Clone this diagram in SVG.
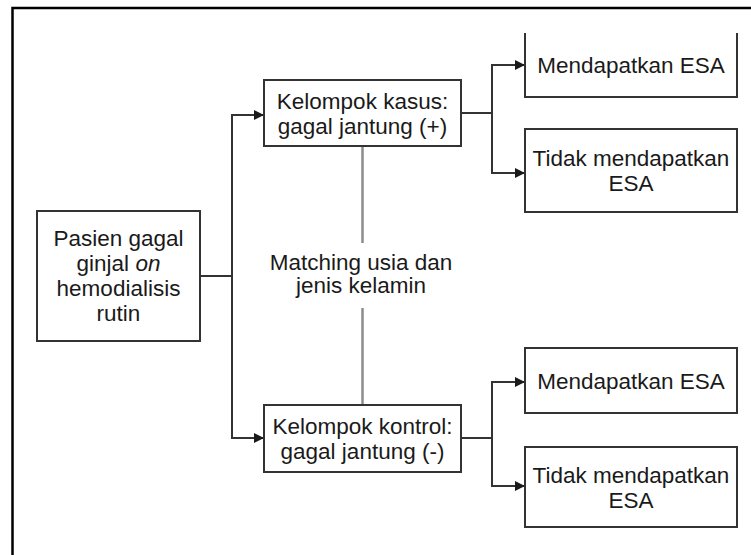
<svg xmlns="http://www.w3.org/2000/svg" width="751" height="555" viewBox="0 0 751 555">
<style>
  .box { fill: #ffffff; stroke: #333333; stroke-width: 2; }
  .lbl { font-family: "Liberation Sans", Arial, Helvetica, sans-serif; font-size: 22.5px; fill: #1a1a1a; text-anchor: middle; }
  .conn { fill: none; stroke: #333333; stroke-width: 2; }
  .match { fill: none; stroke: #8c8c8c; stroke-width: 2.5; }
  .frame { fill: none; stroke: #000000; stroke-width: 2.5; }
</style>
<defs>
  <marker id="arrow" markerWidth="10" markerHeight="10" refX="9" refY="5" orient="auto" markerUnits="userSpaceOnUse">
    <path d="M0,0 L10,5 L0,10 Z" fill="#1a1a1a"/>
  </marker>
</defs>
<rect width="751" height="555" fill="#ffffff"/>
<path class="frame" d="M12.5,555 L12.5,8 L751,8"/>

<g id="connectors">
  <path class="conn" d="M200,276 L232,276 L232,115 L263,115" marker-end="url(#arrow)"/>
  <path class="conn" d="M232,276 L232,438 L263,438" marker-end="url(#arrow)"/>
  <path class="conn" d="M461,113 L492,113 L492,65 L524,65" marker-end="url(#arrow)"/>
  <path class="conn" d="M492,113 L492,173 L524,173" marker-end="url(#arrow)"/>
  <path class="conn" d="M461,438 L492,438 L492,382 L524,382" marker-end="url(#arrow)"/>
  <path class="conn" d="M492,438 L492,486 L524,486" marker-end="url(#arrow)"/>
  <path class="match" d="M362.5,146 L362.5,243"/>
  <path class="match" d="M362.5,308 L362.5,405"/>
</g>

<g id="pasien">
  <rect class="box" x="37" y="211" width="163" height="130"/>
  <text class="lbl" x="118.5" y="246"><tspan x="118.5">Pasien gagal</tspan><tspan x="118.5" dy="25">ginjal <tspan font-style="italic">on</tspan></tspan><tspan x="118.5" dy="25">hemodialisis</tspan><tspan x="118.5" dy="25">rutin</tspan></text>
</g>

<g id="kasus">
  <rect class="box" x="264" y="80" width="197" height="66"/>
  <text class="lbl" x="362.5" y="109"><tspan x="362.5">Kelompok kasus:</tspan><tspan x="362.5" dy="25">gagal jantung (+)</tspan></text>
</g>

<g id="kontrol">
  <rect class="box" x="264" y="405" width="197" height="67"/>
  <text class="lbl" x="362.5" y="434"><tspan x="362.5">Kelompok kontrol:</tspan><tspan x="362.5" dy="25">gagal jantung (-)</tspan></text>
</g>

<g id="matching">
  <text class="lbl" x="361" y="270"><tspan x="361">Matching usia dan</tspan><tspan x="361" dy="23">jenis kelamin</tspan></text>
</g>

<g id="kasus-esa">
  <path class="box" d="M525,33 L525,97 L737,97 L737,33"/>
  <text class="lbl" x="631" y="73">Mendapatkan ESA</text>
</g>

<g id="kasus-tidak-esa">
  <rect class="box" x="525" y="129" width="212" height="83"/>
  <text class="lbl" x="631" y="166"><tspan x="631">Tidak mendapatkan</tspan><tspan x="631" dy="25">ESA</tspan></text>
</g>

<g id="kontrol-esa">
  <rect class="box" x="525" y="348" width="212" height="65"/>
  <text class="lbl" x="631" y="388.5">Mendapatkan ESA</text>
</g>

<g id="kontrol-tidak-esa">
  <rect class="box" x="525" y="447" width="212" height="80"/>
  <text class="lbl" x="631" y="482.5"><tspan x="631">Tidak mendapatkan</tspan><tspan x="631" dy="25">ESA</tspan></text>
</g>
</svg>
